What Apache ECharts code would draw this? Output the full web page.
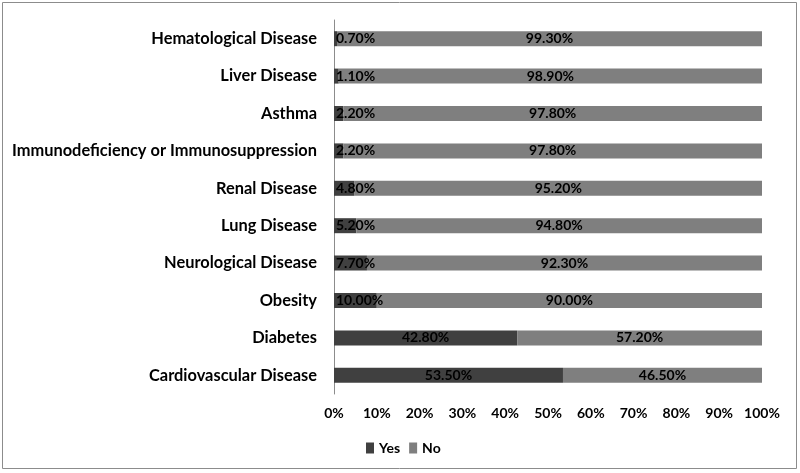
<!DOCTYPE html>
<html><head><meta charset="utf-8">
<script src="https://cdn.jsdelivr.net/npm/echarts@6/dist/echarts.min.js"></script>
<style>html,body{margin:0;padding:0;background:#fff}#c{width:800px;height:473px}</style>
</head><body><div id="c"></div>
<script>
const categories = ["Cardiovascular Disease","Diabetes","Obesity","Neurological Disease","Lung Disease","Renal Disease","Immunodeficiency or Immunosuppression","Asthma","Liver Disease","Hematological Disease"];
const yesValues = [53.5,42.8,10.0,7.7,5.2,4.8,2.2,2.2,1.1,0.7];
const noValues = [46.5,57.2,90.0,92.3,94.8,95.2,97.8,97.8,98.9,99.3];
const xTicks = [0,10,20,30,40,50,60,70,80,90,100];

const FONT = "Lato";
const labelStyle = {show:true, color:'#000', fontFamily:FONT, fontWeight:'bold', fontSize:14,
  formatter: p => p.value.toFixed(2) + '%'};

const chart = echarts.init(document.getElementById('c'));
chart.setOption({
  animation:false,
  backgroundColor:'#fff',
  graphic:[{type:'rect', shape:{x:2.5,y:2.5,width:794,height:466}, style:{fill:'none', stroke:'#8c8c8c', lineWidth:1}, silent:true}],
  grid:{left:334, right:38, top:20, bottom:79, containLabel:false},
  legend:{bottom:13, left:361, itemWidth:8, itemHeight:11, itemGap:9, icon:'rect',
    textStyle:{fontFamily:FONT, fontWeight:'bold', fontSize:14, color:'#000'}, data:['Yes','No']},
  xAxis:{type:'value', min:0, max:100, interval:10,
    axisLine:{show:false}, axisTick:{show:false}, splitLine:{show:false},
    axisLabel:{fontFamily:FONT, fontWeight:'bold', fontSize:14, color:'#000', margin:12,
      formatter:v => xTicks.includes(v) ? v + '%' : ''}},
  yAxis:{type:'category', data:categories,
    axisLine:{show:true, lineStyle:{color:'#8c8c8c', width:1}}, axisTick:{show:false},
    axisLabel:{fontFamily:FONT, fontWeight:'bold', fontSize:16.4, color:'#000', margin:17}},
  series:[
    {name:'Yes', type:'bar', stack:'t', barWidth:15, itemStyle:{color:'#404040'},
      data: yesValues.map(v => v < 15 ? {value:v, label:{position:'insideLeft', distance:2}} : v),
      label:Object.assign({position:'inside'}, labelStyle)},
    {name:'No', type:'bar', stack:'t', barWidth:15, itemStyle:{color:'#7f7f7f'},
      data: noValues, label:Object.assign({position:'inside'}, labelStyle)}
  ]
});
</script></body></html>
